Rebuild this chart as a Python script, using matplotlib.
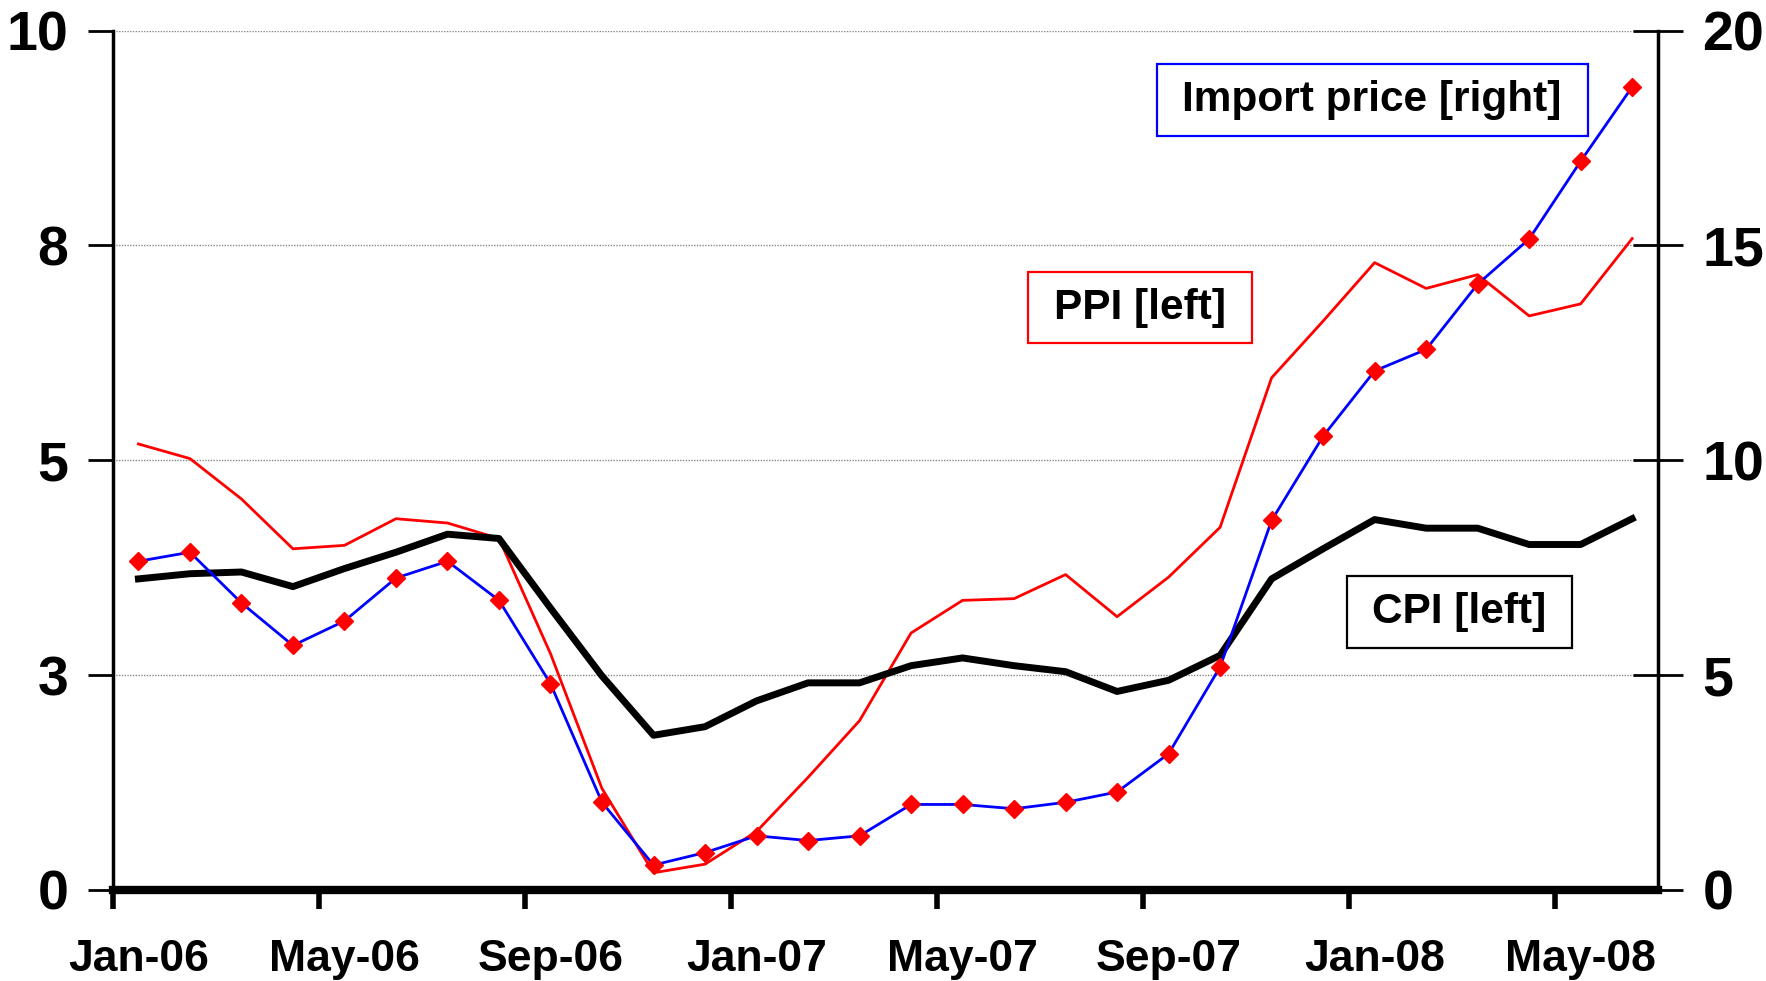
import matplotlib
matplotlib.use("Agg")
import matplotlib.pyplot as plt
from matplotlib.patches import Rectangle

# monthly, Jan-06 .. Jun-08 (year-on-year % change)
months = ["Jan-06", "Feb-06", "Mar-06", "Apr-06", "May-06", "Jun-06", "Jul-06", "Aug-06",
          "Sep-06", "Oct-06", "Nov-06", "Dec-06", "Jan-07", "Feb-07", "Mar-07", "Apr-07",
          "May-07", "Jun-07", "Jul-07", "Aug-07", "Sep-07", "Oct-07", "Nov-07", "Dec-07",
          "Jan-08", "Feb-08", "Mar-08", "Apr-08", "May-08", "Jun-08"]

ppi = [5.19, 5.02, 4.55, 3.97, 4.01, 4.32, 4.27, 4.09, 2.75, 1.18, 0.20, 0.30,
       0.68, 1.31, 1.97, 2.99, 3.37, 3.39, 3.67, 3.18, 3.64, 4.22, 5.96, 6.62,
       7.30, 7.00, 7.16, 6.68, 6.82, 7.58]

cpi = [3.62, 3.68, 3.70, 3.53, 3.74, 3.93, 4.14, 4.09, 3.28, 2.49, 1.80, 1.90,
       2.20, 2.41, 2.41, 2.61, 2.70, 2.61, 2.54, 2.31, 2.44, 2.73, 3.62, 3.97,
       4.31, 4.21, 4.21, 4.02, 4.02, 4.32]

import_price = [7.65, 7.86, 6.68, 5.69, 6.26, 7.26, 7.65, 6.74, 4.80, 2.04, 0.58, 0.87,
                1.26, 1.15, 1.26, 1.99, 1.99, 1.89, 2.04, 2.28, 3.17, 5.19, 8.60, 10.56,
                12.08, 12.58, 14.10, 15.15, 16.96, 18.69]

left_ticks = [0, 2.5, 5, 7.5, 10]
left_labels = ["0", "3", "5", "8", "10"]
right_ticks = [0, 5, 10, 15, 20]
right_labels = ["0", "5", "10", "15", "20"]

plt.rcParams['font.family'] = ['Liberation Sans', 'DejaVu Sans']
plt.rcParams['font.weight'] = 'bold'

fig = plt.figure(figsize=(17.66, 9.81), dpi=100)
ax = fig.add_axes([0.0638, 0.0928, 0.875, 0.876])
ax2 = ax.twinx()

x = list(range(len(months)))

ax.plot(x, ppi, color="red", linewidth=2.0, zorder=3)
ax.plot(x, cpi, color="black", linewidth=5.0, zorder=4)
ax2.plot(x, import_price, color="blue", linewidth=2.0, marker="D", markersize=9,
         markerfacecolor="red", markeredgecolor="red", zorder=5)

ax.set_xlim(-0.5, 29.5)
ax.set_ylim(0, 10)
ax2.set_ylim(0, 20)

# gridlines
for t in left_ticks:
    ax.axhline(t, color="#888888", linewidth=1.0, linestyle=(0, (1, 1)), zorder=1)

ax.set_yticks(left_ticks)
ax.set_yticklabels(left_labels, fontsize=40, fontweight="bold")
ax2.set_yticks(right_ticks)
ax2.set_yticklabels(right_labels, fontsize=40, fontweight="bold")

# ticks between categories, labels on the categories
ax.set_xticks([i - 0.5 for i in range(0, 30, 4)])
ax.set_xticklabels([])
ax.set_xticks(list(range(0, 30, 4)), minor=True)
ax.set_xticklabels(months[::4], minor=True, fontsize=32, fontweight="bold")
ax.tick_params(axis="x", which="major", direction="out", length=14, width=4, color="black")
ax.tick_params(axis="x", which="minor", length=0, pad=35)

ax.tick_params(axis="y", direction="out", length=18, width=2, pad=14)
ax2.tick_params(axis="y", direction="inout", length=36, width=2, pad=14)

for a in (ax, ax2):
    a.spines["top"].set_visible(False)
ax.spines["left"].set_linewidth(2.5)
ax.spines["bottom"].set_linewidth(6)
ax2.spines["right"].set_linewidth(2.5)
ax2.spines["left"].set_visible(False)
ax2.spines["bottom"].set_visible(False)

# labelled boxes
boxes = [
    ("Import price [right]", "blue", 0.655, 0.861, 0.244, 0.0735),
    ("PPI [left]", "red", 0.582, 0.650, 0.127, 0.0723),
    ("CPI [left]", "black", 0.763, 0.339, 0.127, 0.0734),
]
for label, col, bx, by, bw, bh in boxes:
    fig.patches.append(Rectangle((bx, by), bw, bh, transform=fig.transFigure,
                                 fill=True, facecolor="white", edgecolor=col,
                                 linewidth=1.6, zorder=10))
    fig.text(bx + bw / 2, by + bh / 2, label, ha="center", va="center",
             fontsize=30.5, fontweight="bold", zorder=11)

fig.savefig("out.png", dpi=100)
